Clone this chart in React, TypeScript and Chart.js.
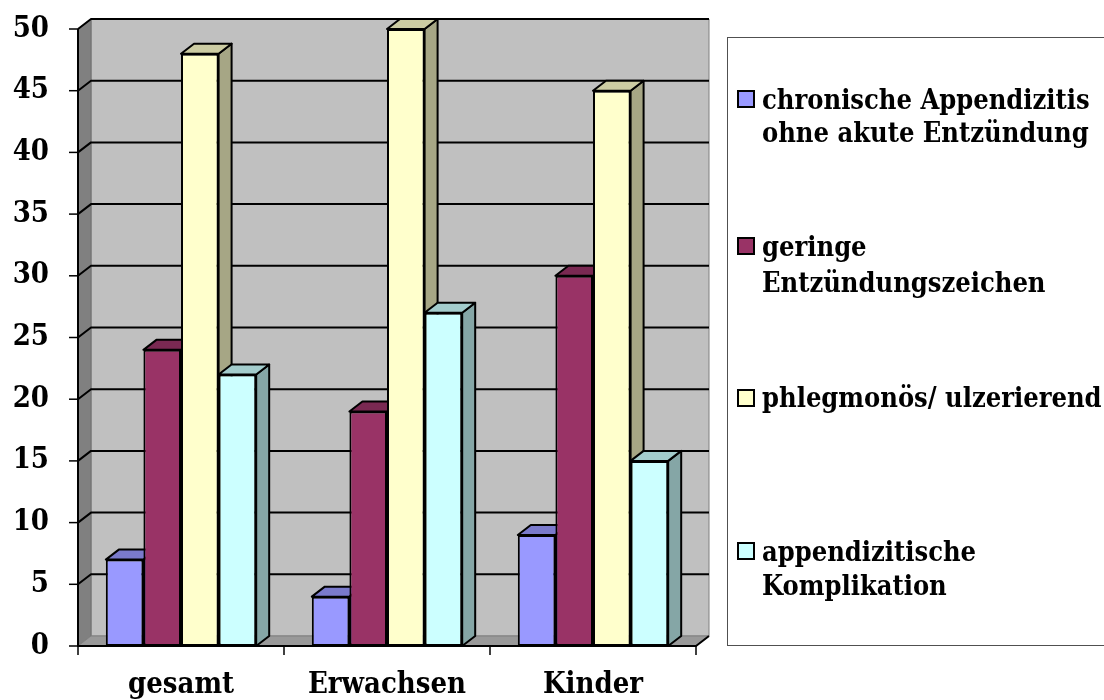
import React, { useEffect, useRef } from "react";
import { Chart, registerables } from "chart.js";

Chart.register(...registerables);

const categories = ["gesamt", "Erwachsen", "Kinder"];
const seriesLegend = [
  ["chronische Appendizitis", "ohne akute Entzündung"],
  ["geringe", "Entzündungszeichen"],
  ["phlegmonös/ ulzerierend"],
  ["appendizitische", "Komplikation"],
];
const chronisch = [7, 4, 9];
const gering = [24, 19, 30];
const phlegmonoes = [48, 50, 45];
const komplikation = [22, 27, 15];
const seriesColors = ["#9999FF", "#993366", "#FFFFCC", "#CCFFFF"];
const yMin = 0;
const yMax = 50;
const yStep = 5;

const FONT = "'DejaVu Serif Condensed', 'DejaVu Serif', serif";
const DX = 13;
const DY = 10;

function shade(hex: string, f: number) {
  const n = parseInt(hex.slice(1), 16);
  const r = Math.round(((n >> 16) & 255) * f);
  const g = Math.round(((n >> 8) & 255) * f);
  const b = Math.round((n & 255) * f);
  return `rgb(${r},${g},${b})`;
}

function poly(ctx: CanvasRenderingContext2D, pts: number[][], fill: string | null, stroke: string | null, lw = 1) {
  ctx.beginPath();
  ctx.moveTo(pts[0][0], pts[0][1]);
  for (let i = 1; i < pts.length; i++) ctx.lineTo(pts[i][0], pts[i][1]);
  ctx.closePath();
  if (fill) {
    ctx.fillStyle = fill;
    ctx.fill();
  }
  if (stroke) {
    ctx.strokeStyle = stroke;
    ctx.lineWidth = lw;
    ctx.lineJoin = "round";
    ctx.stroke();
  }
}

const threeD = {
  id: "threeD",
  beforeDatasetsDraw(chart: any) {
    const { ctx, chartArea: a, scales } = chart;
    const y = scales.y;
    const L = a.left;
    const R = a.right;
    const B = y.getPixelForValue(yMin);
    const T = y.getPixelForValue(yMax);
    ctx.save();
    poly(ctx, [[L + DX, T - DY], [R + DX, T - DY], [R + DX, B - DY], [L + DX, B - DY]], "#C0C0C0", "#808080", 1);
    poly(ctx, [[L, T], [L + DX, T - DY], [L + DX, B - DY], [L, B]], "#808080", "#707070", 1);
    poly(ctx, [[L, B], [L + DX, B - DY], [R + DX, B - DY], [R, B]], "#999999", "#808080", 1);
    ctx.strokeStyle = "#000";
    ctx.lineWidth = 2;
    for (let v = yMin + yStep; v <= yMax; v += yStep) {
      const py = y.getPixelForValue(v);
      ctx.beginPath();
      ctx.moveTo(L, py);
      ctx.lineTo(L + DX, py - DY);
      ctx.lineTo(R + DX, py - DY);
      ctx.stroke();
    }
    ctx.lineWidth = 1.5;
    for (let v = yMin; v <= yMax; v += yStep) {
      const py = y.getPixelForValue(v);
      ctx.beginPath();
      ctx.moveTo(L - 9, py);
      ctx.lineTo(L, py);
      ctx.stroke();
    }
    ctx.lineWidth = 2;
    ctx.beginPath();
    ctx.moveTo(L, T);
    ctx.lineTo(L, B);
    ctx.lineTo(R, B);
    ctx.lineTo(R + DX, B - DY);
    ctx.stroke();
    ctx.lineWidth = 1.5;
    const n = categories.length;
    for (let i = 0; i <= n; i++) {
      const px = L + ((R - L) * i) / n;
      ctx.beginPath();
      ctx.moveTo(px, B);
      ctx.lineTo(px, B + 9);
      ctx.stroke();
    }
    const nd = chart.data.datasets.length;
    for (let j = 0; j < n; j++) {
      for (let i = 0; i < nd; i++) {
        const bar = chart.getDatasetMeta(i).data[j];
        const w = bar.width;
        const left = bar.x - w / 2;
        const right = bar.x + w / 2;
        const top = bar.y;
        const base = bar.base;
        const c = seriesColors[i];
        poly(ctx, [[right, top], [right + DX, top - DY], [right + DX, base - DY], [right, base]], shade(c, 0.65), "#000", 2);
        poly(ctx, [[left, top], [left + DX, top - DY], [right + DX, top - DY], [right, top]], shade(c, 0.8), "#000", 2);
      }
    }
    ctx.restore();
  },
  afterDraw(chart: any) {
    const { ctx } = chart;
    ctx.save();
    ctx.strokeStyle = "#505050";
    ctx.lineWidth = 1;
    ctx.strokeRect(727.5, 37.5, 420, 608);
    const markerTops = [91, 238, 390, 543];
    const baselines = [[109, 142], [256, 292], [407], [561, 595]];
    ctx.font = `bold 27px ${FONT}`;
    ctx.textBaseline = "alphabetic";
    ctx.textAlign = "left";
    seriesLegend.forEach((lines, i) => {
      ctx.fillStyle = seriesColors[i];
      ctx.fillRect(738, markerTops[i], 16, 16);
      ctx.strokeStyle = "#000";
      ctx.lineWidth = 2;
      ctx.strokeRect(738, markerTops[i], 16, 16);
      ctx.fillStyle = "#000";
      lines.forEach((t, k) => ctx.fillText(t, 762, baselines[i][k]));
    });
    ctx.restore();
  },
};

export default function App() {
  const ref = useRef<HTMLCanvasElement | null>(null);
  useEffect(() => {
    document.body.style.margin = "0";
    const seriesData = [chronisch, gering, phlegmonoes, komplikation];
    const chart = new Chart(ref.current as HTMLCanvasElement, {
      type: "bar",
      data: {
        labels: categories,
        datasets: seriesData.map((d, i) => ({
          label: seriesLegend[i].join(" "),
          data: d,
          backgroundColor: seriesColors[i],
          borderColor: "#000",
          borderWidth: 2,
          borderSkipped: false,
          categoryPercentage: 0.73,
          barPercentage: 1,
        })),
      },
      options: {
        animation: false,
        responsive: false,
        devicePixelRatio: 1,
        layout: { padding: { left: 0, top: 29, right: 408, bottom: 0 } },
        plugins: { legend: { display: false }, tooltip: { enabled: false } },
        scales: {
          x: {
            grid: { display: false, drawTicks: false },
            border: { display: false },
            ticks: { color: "#000", font: { family: FONT, size: 29, weight: "bold" }, padding: 22 },
            afterFit: (s: any) => {
              s.height = 54;
              s.paddingLeft = 0;
              s.paddingRight = 0;
            },
          },
          y: {
            min: yMin,
            max: yMax,
            grid: { display: false, drawTicks: false },
            border: { display: false },
            ticks: { stepSize: yStep, color: "#000", font: { family: FONT, size: 29, weight: "bold" }, padding: 29 },
            afterFit: (s: any) => {
              s.width = 78;
              s.paddingTop = 0;
              s.paddingBottom = 0;
            },
          },
        },
      },
      plugins: [threeD],
    });
    return () => chart.destroy();
  }, []);
  return (
    <div style={{ width: 1104, height: 700 }}>
      <canvas ref={ref} width={1104} height={700} />
    </div>
  );
}
